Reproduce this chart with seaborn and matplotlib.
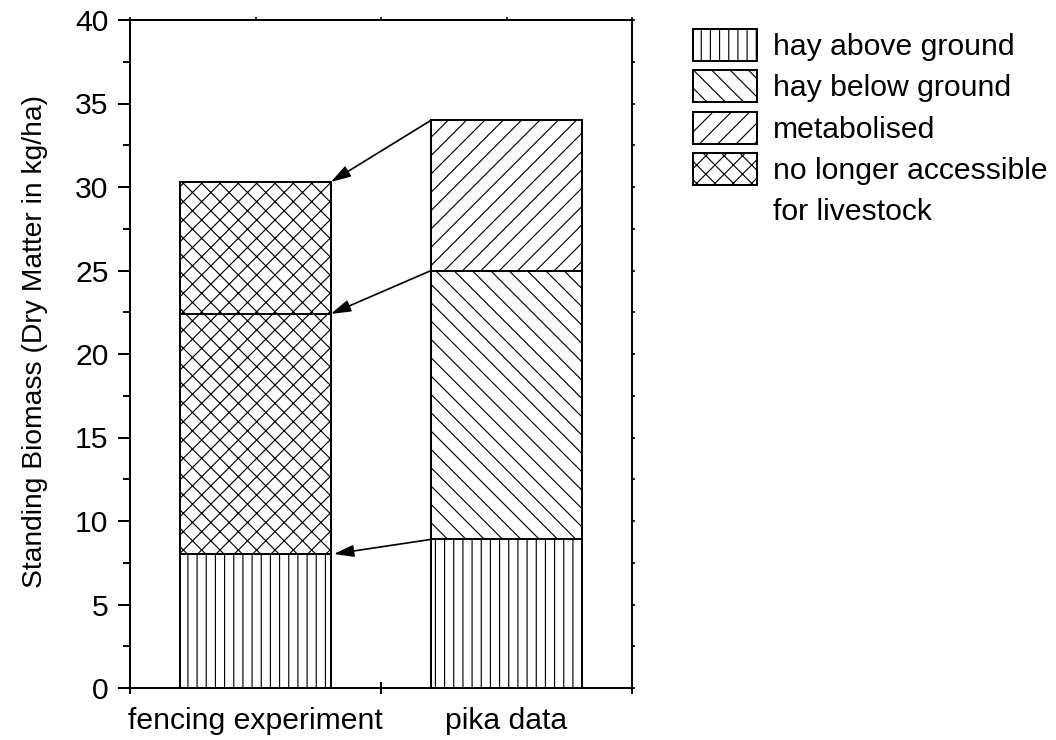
import numpy as np
import pandas as pd
import matplotlib
matplotlib.use("Agg")
import matplotlib.pyplot as plt
import matplotlib.patches as mpatches
from matplotlib.ticker import MultipleLocator, FixedLocator, NullFormatter, FixedFormatter
import seaborn as sns

# ---- data ----
categories = ["fencing experiment", "pika data"]
fencing_parts = ["hay above ground", "no longer accessible", "no longer accessible"]
fencing_values = [8.0, 14.4, 7.9]
pika_parts = ["hay above ground", "hay below ground", "metabolised"]
pika_values = [8.9, 16.1, 9.0]
legend_labels = ["hay above ground", "hay below ground", "metabolised",
                 "no longer accessible"]
legend_extra = "for livestock"
ylabel = "Standing Biomass (Dry Matter in kg/ha)"
yticks = [0, 5, 10, 15, 20, 25, 30, 35, 40]

hatches = {"hay above ground": "||", "hay below ground": "\\\\",
           "metabolised": "//", "no longer accessible": "xx"}

rows = []
for cat, parts, vals in [(categories[0], fencing_parts, fencing_values),
                         (categories[1], pika_parts, pika_values)]:
    bottoms = np.concatenate([[0], np.cumsum(vals)[:-1]])
    for p, v, b in zip(parts, vals, bottoms):
        rows.append(dict(category=cat, part=p, value=v, bottom=b))
df = pd.DataFrame(rows)

DPI = 110
sns.set_theme(style="ticks")
plt.rcParams['font.family'] = ['Liberation Sans', 'DejaVu Sans']
plt.rcParams['hatch.linewidth'] = 0.75
plt.rcParams['axes.linewidth'] = 1.3
for k in ['text.color', 'axes.labelcolor', 'xtick.color', 'ytick.color',
          'axes.edgecolor', 'hatch.color']:
    plt.rcParams[k] = 'black'

FS = 19.7
BAR_W = 0.6

fig = plt.figure(figsize=(1056 / DPI, 740 / DPI), dpi=DPI)
fig.patch.set_facecolor("white")
ax = fig.add_axes([130 / 1056, 52 / 740, 502 / 1056, 668 / 740])
ax.set_facecolor("white")

for _, r in df.iterrows():
    sns.barplot(x=[r["category"]], y=[r["value"]], order=categories,
                bottom=r["bottom"], color="white", saturation=1,
                edgecolor="black", linewidth=1.3, hatch=hatches[r["part"]],
                width=BAR_W, errorbar=None, ax=ax)

# arrows linking the stacks
pika_cum = np.cumsum(pika_values)
fen_cum = np.cumsum(fencing_values)
for i in range(3):
    ax.annotate("", xy=(0 + BAR_W / 2, fen_cum[i]), xytext=(1 - BAR_W / 2, pika_cum[i]),
                arrowprops=dict(arrowstyle="-|>,head_length=1.1,head_width=0.33",
                                color="black", lw=1.1, shrinkA=0,
                                shrinkB=2 if i == 0 else 0, mutation_scale=10))

ax.set_xlim(-0.5, 1.5)
ax.set_ylim(0, 40)

# y axis
ax.yaxis.set_major_locator(FixedLocator(yticks))
ax.yaxis.set_minor_locator(MultipleLocator(2.5))
ax.tick_params(axis="y", which="major", direction="out", length=8, width=1.3,
               labelsize=FS, pad=6, colors="black")
ax.tick_params(axis="y", which="minor", direction="out", length=4.5, width=1.3)
ax.set_ylabel(ylabel, fontsize=18.5, color="black")
ax.yaxis.set_label_coords(-0.163, 0.519)

# x axis: major ticks at boundaries, labels on minor ticks at categories
ax.xaxis.set_major_locator(FixedLocator([-0.5, 0.5, 1.5]))
ax.xaxis.set_major_formatter(NullFormatter())
ax.xaxis.set_minor_locator(FixedLocator([0, 1]))
ax.xaxis.set_minor_formatter(FixedFormatter(categories))
ax.tick_params(axis="x", which="major", direction="inout", length=8.5, width=1.3)
ax.tick_params(axis="x", which="minor", length=0, labelsize=FS, pad=12.5,
               colors="black")
ax.set_xlabel("")

for s in ax.spines.values():
    s.set_visible(True)
    s.set_color("black")
    s.set_linewidth(1.3)

# small ticks on top and right
sec_x = ax.secondary_xaxis("top")
sec_x.set_xticks([-0.5, 0, 0.5, 1, 1.5])
sec_x.tick_params(direction="out", length=2, width=1.1, labeltop=False)
sec_x.spines["top"].set_linewidth(1.3)
sec_y = ax.secondary_yaxis("right")
sec_y.set_yticks(np.arange(0, 40.1, 2.5))
sec_y.tick_params(direction="out", length=2, width=1.1, labelright=False)
sec_y.spines["right"].set_linewidth(1.3)

# legend
handles = [mpatches.Patch(facecolor="white", edgecolor="black", linewidth=1.3,
                          hatch=hatches[l]) for l in legend_labels]
handles.append(mpatches.Patch(facecolor="none", edgecolor="none"))
leg = fig.legend(handles, legend_labels + [legend_extra], loc="upper left",
                 bbox_to_anchor=(693 / 1056, 1 - 29 / 740),
                 bbox_transform=fig.transFigure, frameon=False, fontsize=FS,
                 borderpad=0, borderaxespad=0, handlelength=2.14,
                 handleheight=1.25, handletextpad=0.52, labelspacing=0.31,
                 labelcolor="black")

fig.savefig("out.png", dpi=DPI, facecolor="white")
